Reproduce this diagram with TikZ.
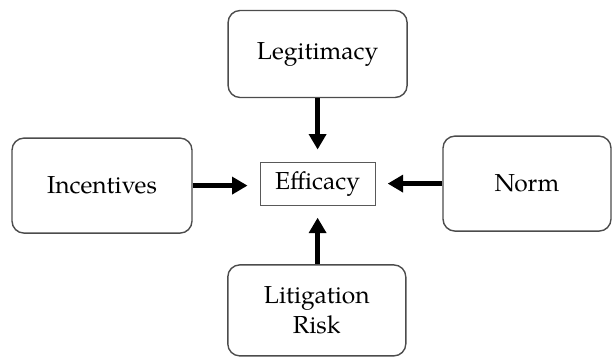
\documentclass[tikz,border=0pt]{standalone}
\usepackage{fontspec}
\setmainfont{TeX Gyre Pagella}
\usetikzlibrary{arrows.meta}

\tikzset{
  factor/.style={draw=black!70, line width=1pt, rounded corners=0.3cm, align=center,
    inner sep=0pt, font=\fontsize{17.5}{21}\selectfont},
  core/.style={draw=black!65, line width=0.8pt, inner sep=0pt,
    font=\fontsize{17.5}{21}\selectfont},
  push/.style={line width=3pt, -{Triangle[length=11pt,width=12pt]}, shorten >=0.3cm}
}

\begin{document}
\begin{tikzpicture}
\useasboundingbox (0,0) rectangle (15.325,8.95);
% central box
\node[core, minimum width=2.875cm, minimum height=1.075cm] (efficacy) at (7.94,4.36) {Efficacy};
% surrounding factors
\node[factor, minimum width=4.475cm, minimum height=2.175cm] (legit) at (7.94,7.6) {Legitimacy};
\node[factor, minimum width=4.5cm, minimum height=2.375cm] (incent) at (2.55,4.31) {Incentives};
\node[factor, minimum width=4.2cm, minimum height=2.375cm] (norm) at (13.175,4.36) {Norm};
\node[factor, minimum width=4.45cm, minimum height=2.275cm] (litig) at (7.92,1.19) {Litigation\\Risk};
% arrows into efficacy
\draw[push] (legit.south) -- (efficacy.north);
\draw[push] (incent.east) -- (incent.east -| efficacy.west);
\draw[push] (norm.west) -- (norm.west -| efficacy.east);
\draw[push] (litig.north -| efficacy.south) -- (efficacy.south);
\end{tikzpicture}
\end{document}
